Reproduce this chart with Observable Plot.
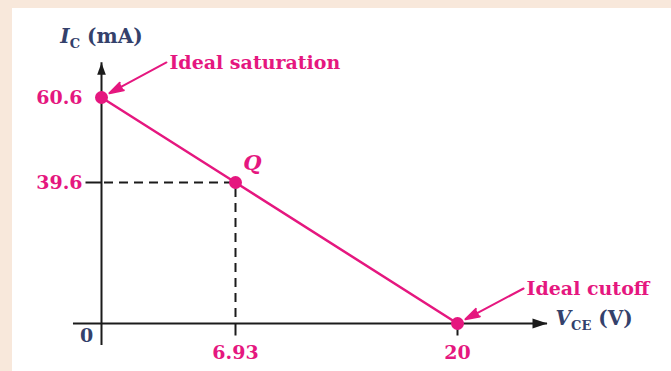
<!DOCTYPE html>
<html>
<head>
<meta charset="utf-8">
<script src="https://cdn.jsdelivr.net/npm/d3@7"></script>
<script src="https://cdn.jsdelivr.net/npm/@observablehq/plot@0.6"></script>
<style>
  body { margin: 0; background: #f8e8db; }
  #page { position: relative; width: 671px; height: 371px; overflow: hidden; }
  #panel { position: absolute; left: 12px; top: 8px; right: 0; bottom: 0; background: #ffffff; }
  #chart { position: absolute; left: 0; top: 0; }
</style>
</head>
<body>
<div id="page"><div id="panel"></div><div id="chart"></div></div>
<script>
// DC load line of a transistor stage: I_C against V_CE
const vce = [0, 6.93, 20];                 // V_CE (V)
const ic = [60.6, 39.6, 0];                // I_C (mA)
const pointNames = ["Ideal saturation", "Q", "Ideal cutoff"];

const xTickValues = [6.93, 20];
const xTickLabels = ["6.93", "20"];
const yTickValues = [60.6, 39.6];
const yTickLabels = ["60.6", "39.6"];

// where the axis lines end (data units)
const xAxisExtent = [-1.45, 25.3];
const yAxisExtent = [-6.2, 69.2];

// label anchors for the two end-point call-outs (data units)
const calloutX = [3.36, 23.89];
const calloutY = [69.25, 9.83];

const pink = "#e5177f";
const ink = "#1b1b1b";
const navy = "#34416b";
const serif = "DejaVu Serif, Liberation Serif, serif";

const points = vce.map((v, i) => ({vce: v, ic: ic[i], name: pointNames[i]}));
const q = points[1];
const callouts = [points[0], points[2]].map((p, i) => ({...p, lx: calloutX[i], ly: calloutY[i]}));

// small path symbols for arrowheads and tick marks; r sets their length
const arrowRight = {draw(c, size) { const l = Math.sqrt(size / Math.PI), h = l * 0.33;
  c.moveTo(0, 0); c.lineTo(-l, -h); c.lineTo(-l, h); c.closePath(); }};
const arrowUp = {draw(c, size) { const l = Math.sqrt(size / Math.PI), h = l * 0.36;
  c.moveTo(0, 0); c.lineTo(-h, l); c.lineTo(h, l); c.closePath(); }};
const tickDown = {draw(c, size) { const l = Math.sqrt(size / Math.PI); c.moveTo(0, 0); c.lineTo(0, l); }};
const tickLeft = {draw(c, size) { const l = Math.sqrt(size / Math.PI); c.moveTo(0, 0); c.lineTo(-l, 0); }};

const label = {fontFamily: serif, fontWeight: "bold", fontSize: 19};

const chart = Plot.plot({
  width: 671,
  height: 371,
  margin: 0,
  style: {background: "transparent", overflow: "visible"},
  x: {type: "linear", domain: d3.sort(vce), range: [101, 235, 457], axis: null},
  y: {type: "linear", domain: d3.sort(ic), range: [323, 182, 97], axis: null},
  marks: [
    // dashed guides from the operating point to both axes
    Plot.ruleY([q], {y: "ic", x1: 0, x2: "vce", stroke: ink, strokeWidth: 2, strokeDasharray: "9,6", strokeDashoffset: -3}),
    Plot.ruleX([q], {x: "vce", y1: "ic", y2: 0, stroke: ink, strokeWidth: 2, strokeDasharray: "9,6", strokeDashoffset: -6}),
    // axes
    Plot.ruleY([0], {x1: xAxisExtent[0], x2: xAxisExtent[1], stroke: ink, strokeWidth: 2}),
    Plot.ruleX([0], {y1: yAxisExtent[0], y2: yAxisExtent[1], stroke: ink, strokeWidth: 2}),
    Plot.dot([0], {x: xAxisExtent[1], y: 0, symbol: arrowRight, r: 15, fill: ink, stroke: "none"}),
    Plot.dot([0], {x: 0, y: yAxisExtent[1], symbol: arrowUp, r: 12, fill: ink, stroke: "none"}),
    Plot.dot(xTickValues, {x: (d) => d, y: 0, symbol: tickDown, r: 12, fill: "none", stroke: ink, strokeWidth: 2}),
    Plot.dot(yTickValues.slice(1), {x: 0, y: (d) => d, symbol: tickLeft, r: 16, fill: "none", stroke: ink, strokeWidth: 2}),
    // load line and its three points
    Plot.line(points, {x: "vce", y: "ic", stroke: pink, strokeWidth: 2.5}),
    Plot.dot(points, {x: "vce", y: "ic", r: 6.5, fill: pink, stroke: "none"}),
    // call-outs with solid heads
    Plot.arrow(callouts, {x1: "lx", y1: "ly", x2: "vce", y2: "ic", stroke: pink, fill: pink, strokeWidth: 2,
      headLength: 11, headAngle: 34, insetEnd: 9}),
    Plot.text(callouts, {x: "lx", y: "ly", text: "name", textAnchor: "start", dx: 3, fill: pink, ...label}),
    Plot.text([q], {x: "vce", y: "ic", text: "name", dx: 17, dy: -19, fill: pink,
      ...label, fontSize: 21, fontStyle: "italic"}),
    // tick labels
    Plot.text(yTickValues, {x: 0, y: (d) => d, text: (d, i) => yTickLabels[i], textAnchor: "end", dx: -19,
      fill: pink, ...label}),
    Plot.text(xTickValues, {x: (d) => d, y: 0, text: (d, i) => xTickLabels[i], dy: 29, fill: pink, ...label}),
    Plot.text(["0"], {x: 0, y: 0, text: (d) => d, dx: -15, dy: 12, fill: navy, ...label}),
    // axis titles
    Plot.text(["I_C (mA)"], {x: 0, frameAnchor: "top", lineAnchor: "middle", text: (d) => d, dy: 36,
      fill: navy, ...label, fontSize: 20}),
    Plot.text(["V_CE (V)"], {x: xAxisExtent[1], y: 0, text: (d) => d, textAnchor: "start", dx: 8, dy: -5,
      fill: navy, ...label, fontSize: 20})
  ]
});

// italic variable with an upright subscript, e.g. "I_C (mA)"
d3.select(chart).selectAll("text").each(function () {
  const m = this.textContent.match(/^(\w)_(\w+)(.*)$/);
  if (!m) return;
  const el = d3.select(this).text(null);
  el.append("tspan").attr("font-style", "italic").text(m[1]);
  el.append("tspan").attr("font-size", 13).attr("dy", 5).text(m[2]);
  el.append("tspan").attr("dy", -5).text(m[3]);
});

document.getElementById("chart").append(chart);
</script>
</body>
</html>
